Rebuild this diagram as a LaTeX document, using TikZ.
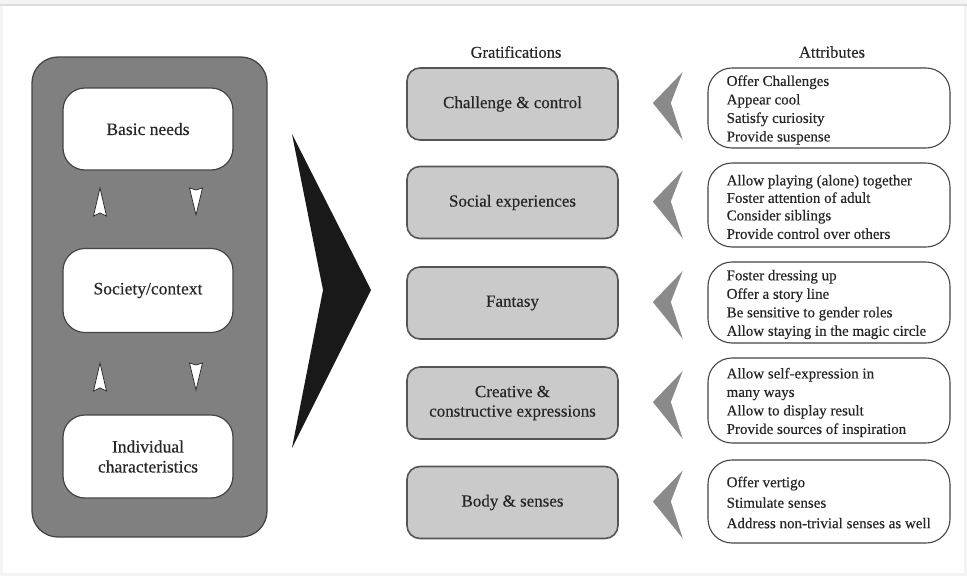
\documentclass[tikz,border=0pt]{standalone}
\usepackage{fontspec}
\setmainfont{Liberation Serif}[FakeBold=0.35]
\usetikzlibrary{calc}
\definecolor{outerfill}{HTML}{808080}
\definecolor{outerdraw}{HTML}{454545}
\definecolor{gratfill}{HTML}{CACACA}
\definecolor{gratdraw}{HTML}{555555}
\definecolor{chevgray}{HTML}{8A8A8A}
\definecolor{framegray}{HTML}{DDDDDD}
\definecolor{bggray}{HTML}{F4F4F4}
\definecolor{txt}{HTML}{262626}
\tikzset{
  every node/.style={text=txt},
  innerbox/.style={draw=outerdraw, line width=1.2pt, fill=white, rounded corners=22pt,
    minimum width=170pt, minimum height=82pt, align=center, inner sep=0pt,
    font=\fontsize{17.5}{20}\selectfont},
  gratbox/.style={draw=gratdraw, line width=1.6pt, fill=gratfill, rounded corners=13pt,
    minimum width=211pt, minimum height=72pt, align=center, inner sep=0pt,
    font=\fontsize{17}{19.5}\selectfont},
  attrbox/.style={draw=outerdraw, line width=1.1pt, fill=white, rounded corners=24pt,
    minimum width=242pt, inner sep=0pt},
  attrtext/.style={anchor=west, align=left, inner sep=0pt,
    font=\fontsize{15}{18.5}\selectfont},
  header/.style={font=\fontsize{16.5}{19}\selectfont},
  smallarrow/.style={draw=black!85, line width=0.7pt, fill=white},
}
\begin{document}
\begin{tikzpicture}[x=1pt, y=-1pt]
\useasboundingbox (0,0) rectangle (967,576);
\fill[bggray] (0,0) rectangle (967,576);
\fill[white] (3,6) rectangle (964,573);
\draw[framegray, line width=1.5pt] (0,5) -- (967,5);

% left column
\node[draw=outerdraw, line width=1.3pt, fill=outerfill, rounded corners=26pt,
  minimum width=235pt, minimum height=480pt, inner sep=0pt] (outer) at (149.5,297) {};
\node[innerbox] (basic) at (148,129) {Basic needs};
\node[innerbox, minimum height=84pt] (society) at (148,290.5) {Society/context};
\node[innerbox, minimum height=83pt] (indiv) at (148,456.5) {Individual\\characteristics};

% small arrows
\coordinate (ua1) at (100,202);
\coordinate (da1) at (196,201);
\coordinate (ua2) at (100,377);
\coordinate (da2) at (196,376);
\foreach \c in {ua1,ua2}{
  \draw[smallarrow] ($(\c)+(0,-14)$) -- ($(\c)+(6.5,14)$) -- ($(\c)+(0,11)$) -- ($(\c)+(-6.5,14)$) -- cycle;
}
\foreach \c in {da1,da2}{
  \draw[smallarrow] ($(\c)+(0,14)$) -- ($(\c)+(6.5,-13)$) -- ($(\c)+(0,-11)$) -- ($(\c)+(-6.5,-13)$) -- cycle;
}

% big chevron
\coordinate (bigtop) at (292,134);
\coordinate (bigtip) at (371,290);
\coordinate (bigbot) at (292,448);
\coordinate (bignotch) at (323,290);
\fill[black!90] (bigtop) -- (bigtip) -- (bigbot) -- (bignotch) -- cycle;

% headers
\node[header] (hgrat) at (516,52) {Gratifications};
\node[header] (hattr) at (832,52) {Attributes};

% gratification boxes
\node[gratbox] (g1) at (512.5,104) {Challenge \& control};
\node[gratbox] (g2) at (512.5,202.5) {Social experiences};
\node[gratbox] (g3) at (512.5,303) {Fantasy};
\node[gratbox] (g4) at (512.5,403) {Creative \&\\constructive expressions};
\node[gratbox] (g5) at (512.5,502.5) {Body \& senses};

% attribute boxes
\node[attrbox, minimum height=80pt] (a1) at (829,108) {};
\node[attrbox, minimum height=84pt] (a2) at (829,205) {};
\node[attrbox, minimum height=81pt] (a3) at (829,302.5) {};
\node[attrbox, minimum height=85pt] (a4) at (829,400.5) {};
\node[attrbox, minimum height=83pt] (a5) at (829,501.5) {};
\node[attrtext] (a1t) at ($(a1.west)+(19,2)$) {Offer Challenges\\Appear cool\\Satisfy curiosity\\Provide suspense};
\node[attrtext] (a2t) at ($(a2.west)+(19,2)$) {Allow playing (alone) together\\[-1pt]Foster attention of adult\\[-1pt]Consider siblings\\Provide control over others};
\node[attrtext] (a3t) at ($(a3.west)+(19,2)$) {Foster dressing up\\Offer a story line\\Be sensitive to gender roles\\Allow staying in the magic circle};
\node[attrtext] (a4t) at ($(a4.west)+(19,2)$) {Allow self-expression in\\many ways\\Allow to display result\\Provide sources of inspiration};
\node[attrtext] (a5t) at ($(a5.west)+(19,1)$) {Offer vertigo\\[2pt]Stimulate senses\\[2pt]Address non-trivial senses as well};

% gray chevrons between attributes and gratifications
\foreach \g in {g1,g2,g3,g4,g5}{
  \fill[chevgray] ($(\g.east)+(64,-32)$) -- ($(\g.east)+(34,-1)$) -- ($(\g.east)+(64,36)$)
     -- ($(\g.east)+(52,-1)$) -- cycle;
}
\end{tikzpicture}
\end{document}
